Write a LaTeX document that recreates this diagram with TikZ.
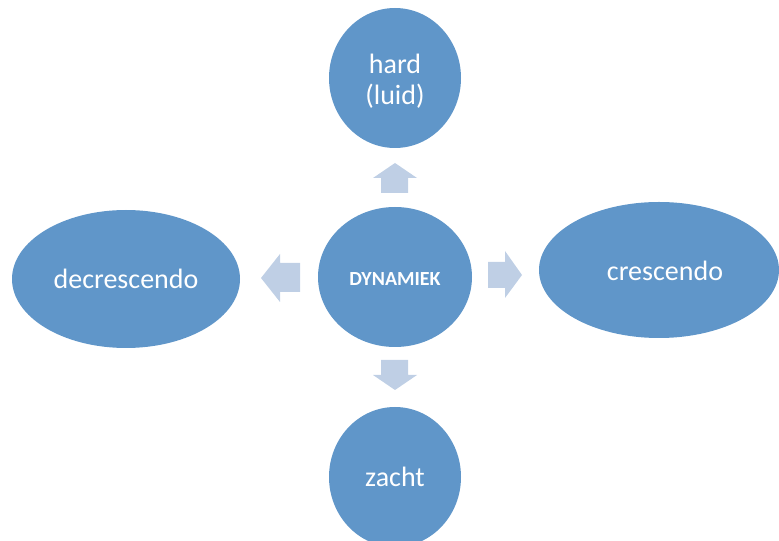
\documentclass[tikz,border=0pt]{standalone}
\usepackage{fontspec}
\setmainfont{Carlito}
\usetikzlibrary{shapes.geometric}
\definecolor{bubble}{HTML}{6096C9}
\definecolor{barrow}{HTML}{BFCFE5}
\begin{document}
\begin{tikzpicture}[x=0.75pt,y=-0.75pt,
  bubble/.style={ellipse,fill=bubble,draw=none,text=white,inner sep=0pt,align=center,
    font=\fontsize{21}{23}\selectfont},
  blockarrow/.style={fill=barrow,draw=none}]
\useasboundingbox (0,0) rectangle (779,541);
\node[bubble,minimum width=115.5pt,minimum height=105pt] (c) at (395,277) {};
\node[font=\fontsize{15}{17}\selectfont\bfseries,text=white] (ct) at (395,279) {DYNAMIEK};
\node[bubble,minimum width=99pt,minimum height=105pt] (t) at (395,78) {};
\node[bubble,font=\fontsize{21}{23}\selectfont,fill=none] (tt) at (395,81) {hard\\(luid)};
\node[bubble,minimum width=180pt,minimum height=102pt] (r) at (659,270) {};
\node[bubble,fill=none] (rt) at (665,271) {crescendo};
\node[bubble,minimum width=171pt,minimum height=103.5pt] (l) at (126,279) {decrescendo};
\node[bubble,minimum width=99pt,minimum height=105pt] (b) at (395,477) {zacht};
% block arrows
\fill[blockarrow] (381,193) -- (381,178) -- (373,178) -- (395,163) -- (417,178) -- (408,178) -- (408,193) -- cycle;
\fill[blockarrow] (381,360) -- (381,375) -- (373,375) -- (395,390) -- (417,375) -- (408,375) -- (408,360) -- cycle;
\fill[blockarrow] (488,262) -- (505,262) -- (505,251) -- (522,275) -- (505,298) -- (505,288) -- (488,288) -- cycle;
\fill[blockarrow] (300,263) -- (280,263) -- (280,254) -- (261,278) -- (280,302) -- (280,292) -- (300,292) -- cycle;
\end{tikzpicture}
\end{document}
